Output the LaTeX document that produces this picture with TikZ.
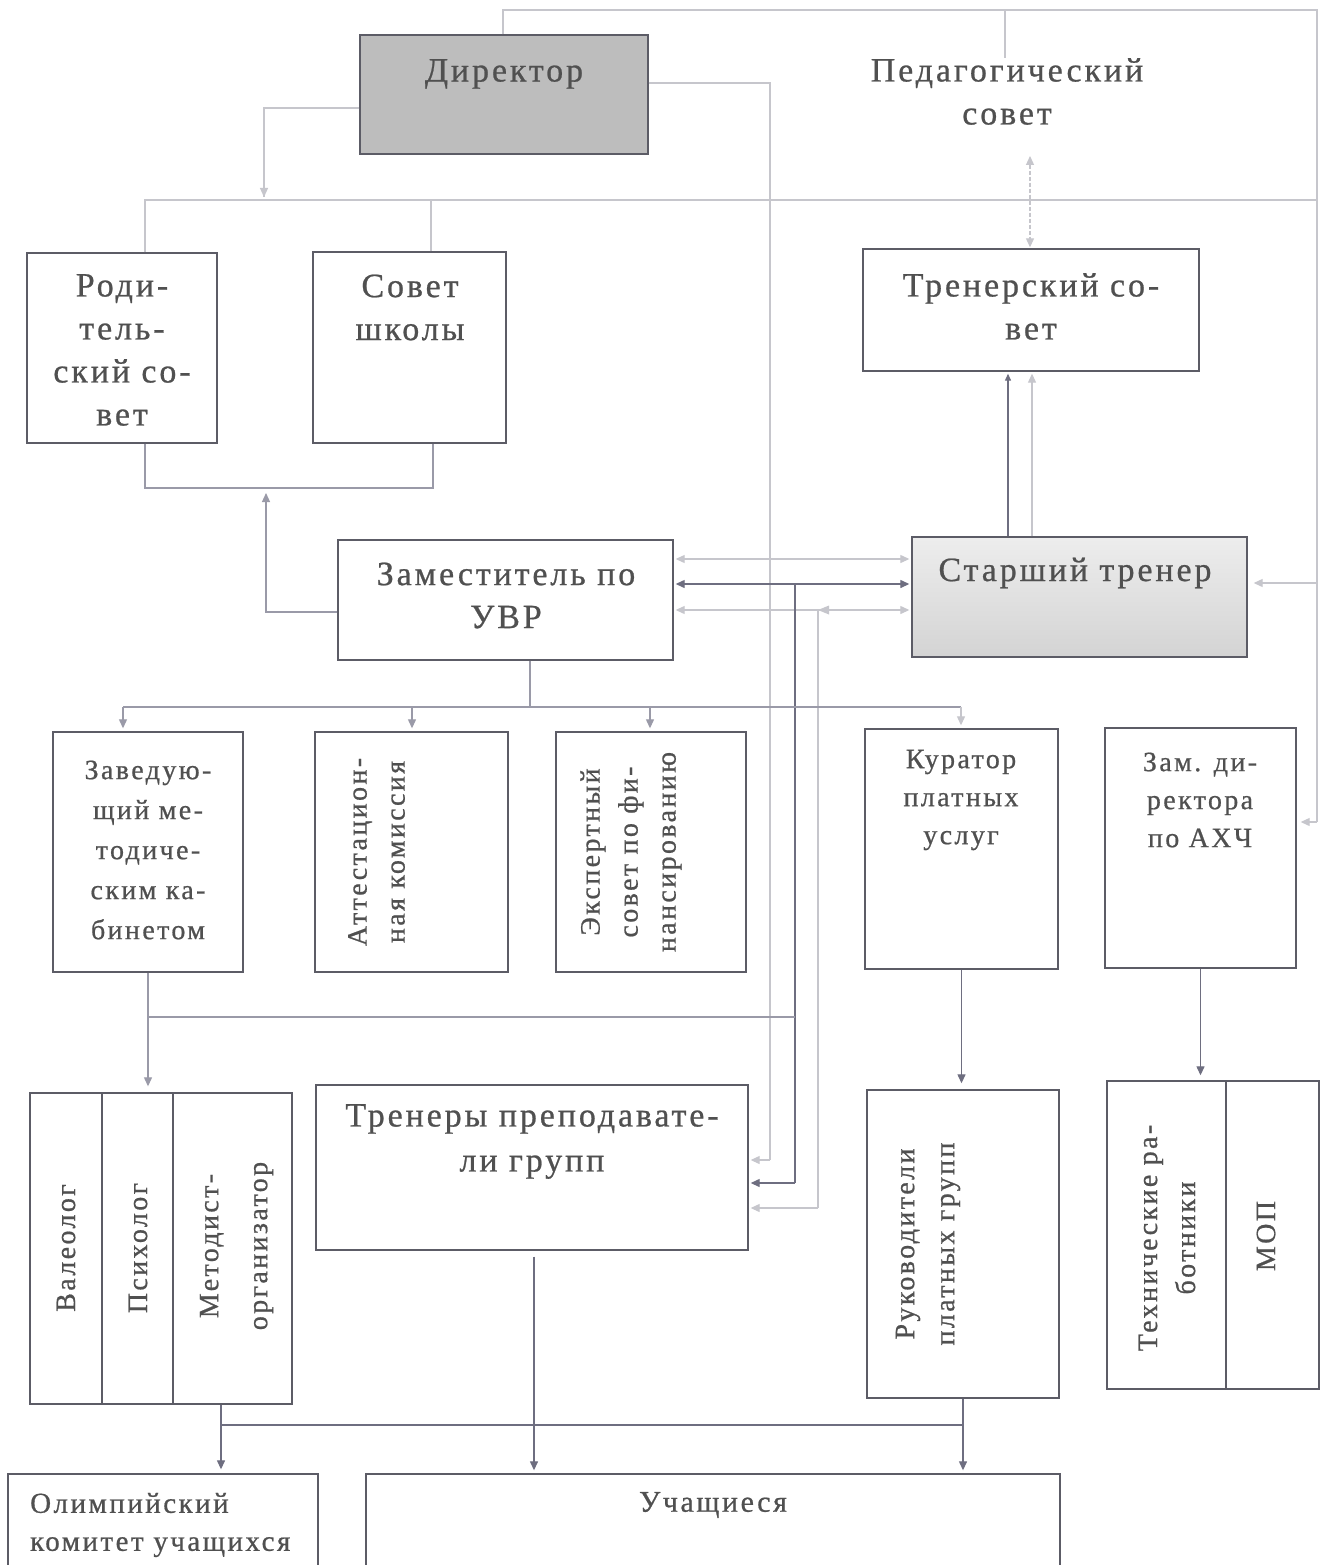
\documentclass[tikz,border=0pt]{standalone}
\usepackage{fontspec}
\setmainfont[LetterSpace=8.5,FakeBold=0.7]{Liberation Serif}
\usetikzlibrary{arrows.meta,calc}
\definecolor{boxc}{HTML}{5C5C66}
\definecolor{txc}{HTML}{505050}
\definecolor{ltc}{HTML}{C6C6CC}
\definecolor{dkc}{HTML}{6E6E80}
\definecolor{mdc}{HTML}{9A9AA8}
\definecolor{dirc}{HTML}{BDBDBD}
\begin{document}
\begin{tikzpicture}[x=1pt,y=-1pt,
  box/.style={draw=boxc,line width=1.4pt,inner sep=0pt,anchor=center},
  txt/.style={text=txc,inner sep=0pt,align=center,font=\fontsize{34}{43}\selectfont},
  mtxt/.style={text=txc,inner sep=0pt,align=center,font=\fontsize{28}{40}\selectfont},
  rtxt/.style={text=txc,inner sep=0pt,align=center,rotate=90,font=\fontsize{28}{38}\selectfont},
  lt/.style={draw=ltc,line width=1.2pt},
  dk/.style={draw=dkc,line width=1.3pt},
  md/.style={draw=mdc,line width=1.2pt},
  ltarr/.style={-{Triangle[length=9pt,width=8pt]}},
  dbl/.style={{Triangle[length=9pt,width=8pt]}-{Triangle[length=9pt,width=8pt]}}
]
\useasboundingbox (0,0) rectangle (1321,1565);
\fill[white] (0,0) rectangle (1321,1565);

% ---- boxes ----
\node[box,fill=dirc,minimum width=288,minimum height=119] (dir) at (504,94.5) {};
\node[box,minimum width=190,minimum height=190] (rod) at (122,348) {};
\node[box,minimum width=193,minimum height=191] (sov) at (409.5,347.5) {};
\node[box,minimum width=336,minimum height=122] (trs) at (1031,310) {};
\node[box,minimum width=335,minimum height=120] (zam) at (505.5,600) {};
\node[box,top color=white!93!black,bottom color=white!83!black,minimum width=335,minimum height=120] (st) at (1079.5,597) {};
\node[box,minimum width=190,minimum height=240] (zav) at (148,852) {};
\node[box,minimum width=193,minimum height=240] (att) at (411.5,852) {};
\node[box,minimum width=190,minimum height=240] (eks) at (651,852) {};
\node[box,minimum width=193,minimum height=240] (kur) at (961.5,849) {};
\node[box,minimum width=191,minimum height=240] (axc) at (1200.5,848) {};
\node[box,minimum width=72,minimum height=311] (val) at (66,1248.5) {};
\node[box,minimum width=71,minimum height=311] (psy) at (137.5,1248.5) {};
\node[box,minimum width=119,minimum height=311] (met) at (232.5,1248.5) {};
\node[box,minimum width=432,minimum height=165] (tr) at (532,1167.5) {};
\node[box,minimum width=192,minimum height=308] (ruk) at (963,1244) {};
\node[box,minimum width=119,minimum height=308] (tex) at (1166.5,1235) {};
\node[box,minimum width=93,minimum height=308] (mop) at (1272.5,1235) {};
\node[box,minimum width=310,minimum height=140] (olim) at (163,1544) {};
\node[box,minimum width=694,minimum height=140] (uch) at (713,1544) {};

% ---- texts ----
\node[txt] (tdir) at (504,74) {Директор};
\node[txt] (ped) at (1007,91.5) {Педагогический\\совет};
\node[txt] (trod) at (122,350) {Роди-\\тель-\\ский со-\\вет};
\node[txt] (tsov) at (410,307.5) {Совет\\школы};
\node[txt] (ttrs) at (1031,306.5) {Тренерский со-\\вет};
\node[txt] (tzam) at (506,595.5) {Заместитель по\\УВР};
\node[txt] (tst) at (1075,573) {Старший тренер};
\node[mtxt] (tzav) at (148,850) {Заведую-\\щий ме-\\тодиче-\\ским ка-\\бинетом};
\node[rtxt] (tatt) at (376.5,852) {Аттестацион-\\ная комиссия};
\node[rtxt] (teks) at (631,852) {Экспертный\\совет по фи-\\нансированию};
\node[mtxt,font=\fontsize{28}{38}\selectfont] (tkur) at (961,800) {Куратор\\платных\\услуг};
\node[mtxt,font=\fontsize{28}{38}\selectfont] (taxc) at (1200,800) {Зам. ди-\\ректора\\по АХЧ};
\node[rtxt] (tval) at (66,1248) {Валеолог};
\node[rtxt] (tpsy) at (138,1248) {Психолог};
\node[rtxt,font=\fontsize{28}{49}\selectfont] (tmet) at (236.5,1246) {Методист-\\организатор};
\node[txt,font=\fontsize{34}{45}\selectfont] (ttr) at (532,1141.5) {Тренеры преподавате-\\ли групп};
\node[rtxt,font=\fontsize{28}{40}\selectfont] (truk) at (928,1244) {Руководители\\платных групп};
\node[rtxt] (ttex) at (1167,1238) {Технические ра-\\ботники};
\node[rtxt] (tmop) at (1266,1236) {МОП};
\node[txt,align=left,anchor=west,font=\fontsize{29}{38}\selectfont] (tolim) at (30,1525) {Олимпийский\\комитет учащихся};
\node[txt,font=\fontsize{30}{38}\selectfont] (tuch) at (713,1505) {Учащиеся};

% ---- junction coordinates ----
\coordinate (j1) at (264,108);
\coordinate (j2) at (264,197);
\coordinate (rr) at (1317,200);
\coordinate (top1) at (503,10);
\coordinate (top2) at (1317,10);
\coordinate (rr2) at (1317,822);
\coordinate (rr3) at (1317,583);
\coordinate (d1) at (770,83);
\coordinate (d2) at (770,1160);
\coordinate (v1) at (795,584);
\coordinate (v2) at (795,1183);
\coordinate (w1) at (818,610);
\coordinate (w2) at (818,1208);

% ---- connectors ----
% director to councils
\draw[lt] (dir.west |- j1) -- (j1) -- (j2);
\draw[lt,ltarr,draw=ltc,fill=ltc] (264,185) -- (j2);
\draw[lt] ([xshift=23pt]rod.north) -- (145,200) -- (rr);
\draw[lt] ([xshift=21.5pt]sov.north) -- (431,200);
% councils bottom joined, arrow from deputy
\draw[md] ([xshift=23pt]rod.south) -- (145,488) -- (433,488) -- ([xshift=23.5pt]sov.south);
\draw[md,-{Triangle[length=9pt,width=8pt]}] (zam.west |- 0,612) -- (266,612) -- (266,493);
% director top line round the right edge
\draw[lt] (dir.north -| top1) -- (top1) -- (top2) -- (rr2);
\draw[lt,-{Triangle[length=9pt,width=8pt]}] (rr2) -- ([xshift=4pt]axc.east |- rr2);
\draw[lt,-{Triangle[length=9pt,width=8pt]}] (rr3) -- ([xshift=6pt]st.east |- rr3);
\draw[lt] (1005,10) -- (ped.north -| 1005,0);
% director to trainers
\draw[lt] (dir.east |- d1) -- (d1) -- (d2);
\draw[lt,-{Triangle[length=9pt,width=8pt]}] (d2) -- ([xshift=2pt]tr.east |- d2);
% ped council <-> trainers council
\draw[lt,dashed,dash pattern=on 4pt off 2pt,{Triangle[length=9pt,width=8pt]}-{Triangle[length=9pt,width=8pt]}] (1030,156) -- ([yshift=1pt]trs.north -| 1030,0);
% senior trainer -> trainers council
\draw[dk,-{Triangle[length=7pt,width=6pt]}] (st.north -| 1008,0) -- ([yshift=-2pt]trs.south -| 1008,0);
\draw[lt,-{Triangle[length=9pt,width=8pt]}] (st.north -| 1032,0) -- ([yshift=-2pt]trs.south -| 1032,0);
% deputy <-> senior trainer
\draw[lt,dbl] ([xshift=2pt]zam.east |- 0,559) -- ([xshift=-2pt]st.west |- 0,559);
\draw[dk,dbl] ([xshift=2pt]zam.east |- 0,584) -- ([xshift=-2pt]st.west |- 0,584);
\draw[lt,dbl] ([xshift=2pt]zam.east |- 0,610) -- ([xshift=-2pt]st.west |- 0,610);
\fill[ltc] (818,610) -- (829,605.5) -- (829,614.5) -- cycle;
\draw[dk] (v1) -- (v2);
\draw[dk,-{Triangle[length=9pt,width=8pt]}] (v2) -- ([xshift=2pt]tr.east |- v2);
\draw[lt] (w1) -- (w2);
\draw[lt,-{Triangle[length=9pt,width=8pt]}] (w2) -- ([xshift=2pt]tr.east |- w2);
% deputy -> subordinate boxes
\draw[md] (zam.south -| 530,0) -- (530,707);
\draw[md] (123,707) -- (961,707);
\draw[md,-{Triangle[length=9pt,width=8pt]}] (123,707) -- ([yshift=3pt]zav.north -| 123,0);
\draw[md,-{Triangle[length=9pt,width=8pt]}] (412,707) -- ([yshift=3pt]att.north -| 412,0);
\draw[md,-{Triangle[length=9pt,width=8pt]}] (650,707) -- ([yshift=3pt]eks.north -| 650,0);
\draw[lt,-{Triangle[length=9pt,width=8pt]}] (961,707) -- ([yshift=3pt]kur.north -| 961,0);
% head of methods cabinet
\draw[md,-{Triangle[length=9pt,width=8pt]}] (zav.south) -- ([yshift=6pt]met.north -| zav.south);
\draw[md] (148,1017) -- (795,1017);
% curator, ACh
\draw[dk,-{Triangle[length=9pt,width=8pt]}] (kur.south) -- ([yshift=6pt]ruk.north -| kur.south);
\draw[dk,-{Triangle[length=9pt,width=8pt]}] (axc.south) -- ([yshift=5pt]tex.north -| axc.south);
% to pupils
\draw[dk,-{Triangle[length=9pt,width=8pt]}] (met.south -| 221,0) -- ([yshift=4pt]olim.north -| 221,0);
\draw[dk] (221,1425) -- (963,1425);
\draw[dk,-{Triangle[length=9pt,width=8pt]}] (ruk.south) -- ([yshift=3pt]uch.north -| ruk.south);
\draw[dk,-{Triangle[length=9pt,width=8pt]}] ([yshift=-6pt]tr.south -| 534,0) -- ([yshift=3pt]uch.north -| 534,0);
\end{tikzpicture}
\end{document}
